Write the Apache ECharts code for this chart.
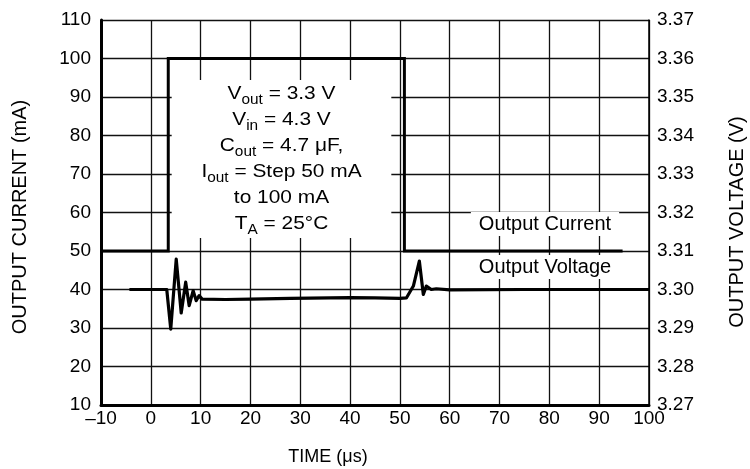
<!DOCTYPE html>
<html>
<head>
<meta charset="utf-8">
<script src="https://cdn.jsdelivr.net/npm/echarts@6/dist/echarts.min.js"></script>
<style>html,body{margin:0;padding:0;background:#fff;}#c{width:750px;height:469px;}</style>
</head>
<body>
<div id="c"></div>
<script>
// Axis ranges / ticks
const timeTicks = { min: -10, max: 100, interval: 10 };
const currentTicks = { min: 10, max: 110, interval: 10 };
const voltageTicks = { min: 3.27, max: 3.37, interval: 0.01 };

// Output current step (time in us, current in mA)
const timeCurrent = [-10, 3.5, 3.5, 50.9, 50.9, 94.7];
const currentMA = [50, 50, 100, 100, 50, 50];

// Output voltage response (time in us, voltage in V)
const timeVoltage = [-4.3, 3.2, 4.0, 5.1, 6.1, 7.0, 7.7, 8.5, 9.1, 9.7, 10.3, 15, 20, 28, 40, 45, 50, 51.3, 52.7, 53.9, 54.7, 55.3, 56.3, 57.3, 60, 75, 100];
const voltageV = [3.3000, 3.3000, 3.2897, 3.3079, 3.2939, 3.3019, 3.2958, 3.2997, 3.2971, 3.2984, 3.2975, 3.2974, 3.2975, 3.2977, 3.2979, 3.2978, 3.2977, 3.2978, 3.3009, 3.3074, 3.2987, 3.3009, 3.3000, 3.3002, 3.2999, 3.3000, 3.3000];

const annotationLines = [
  '{m|V}{s|out}{m| = 3.3 V}',
  '{m|V}{s|in}{m| = 4.3 V}',
  '{m|C}{s|out}{m| = 4.7 μF,}',
  '{m|I}{s|out}{m| = Step 50 mA}',
  '{m|to 100 mA}',
  '{m|T}{s|A}{m| = 25°C}'
];

const FONT = '"Liberation Sans", Arial, Helvetica, sans-serif';
const chart = echarts.init(document.getElementById('c'), null, { renderer: 'canvas' });

const currentData = timeCurrent.map((t, i) => [t, currentMA[i]]);
const voltageData = timeVoltage.map((t, i) => [t, voltageV[i]]);

chart.setOption({
  animation: false,
  backgroundColor: '#fff',
  grid: { left: 101, right: 101, top: 20, bottom: 64, containLabel: false },
  xAxis: {
    type: 'value', min: timeTicks.min, max: timeTicks.max, interval: timeTicks.interval,
    axisLine: { show: true, onZero: false, lineStyle: { color: '#000', width: 3 } },
    axisTick: { show: false },
    axisLabel: { color: '#000', fontFamily: FONT, fontSize: 19, margin: 4,
      formatter: v => v < 0 ? '\u2013' + Math.abs(v) : String(v) },
    splitLine: { show: true, lineStyle: { color: '#111', width: 1.3 } }
  },
  yAxis: [
    {
      type: 'value', position: 'left', min: currentTicks.min, max: currentTicks.max, interval: currentTicks.interval,
      axisLine: { show: true, onZero: false, lineStyle: { color: '#000', width: 3 } },
      axisTick: { show: false },
      axisLabel: { color: '#000', fontFamily: FONT, fontSize: 19, margin: 10 },
      splitLine: { show: true, lineStyle: { color: '#111', width: 1.3 } }
    },
    {
      type: 'value', position: 'right', min: voltageTicks.min, max: voltageTicks.max, interval: voltageTicks.interval,
      axisLine: { show: true, onZero: false, lineStyle: { color: '#000', width: 1.5 } },
      axisTick: { show: false },
      axisLabel: { color: '#000', fontFamily: FONT, fontSize: 19, margin: 8,
        formatter: v => v.toFixed(2) },
      splitLine: { show: false }
    }
  ],
  series: [
    {
      name: 'Output Current', type: 'line', yAxisIndex: 0, data: currentData,
      showSymbol: false, symbol: 'none', z: 5,
      lineStyle: { color: '#000', width: 3, join: 'miter' }
    },
    {
      name: 'Output Voltage', type: 'line', yAxisIndex: 1, data: voltageData,
      showSymbol: false, symbol: 'none', z: 5,
      lineStyle: { color: '#000', width: 3.2, join: 'round' }
    }
  ],
  graphic: [
    {
      type: 'text', x: 281.5, y: 159, scaleX: 1.1, z: 1,
      style: {
        text: annotationLines.join('\n'),
        align: 'center', verticalAlign: 'middle',
        backgroundColor: '#fff', padding: [1, 27],
        fill: '#000',
        font: '19px ' + FONT,
        rich: {
          m: { fontFamily: FONT, fontSize: 19, lineHeight: 26, fill: '#000' },
          s: { fontFamily: FONT, fontSize: 14, lineHeight: 16, verticalAlign: 'bottom', fill: '#000' }
        }
      }
    },
    {
      type: 'text', x: 545, y: 224, z: 1,
      style: { text: 'Output Current', align: 'center', verticalAlign: 'middle',
        font: '20px ' + FONT, fill: '#000', backgroundColor: '#fff', padding: [2, 8] }
    },
    {
      type: 'text', x: 545, y: 267, z: 1,
      style: { text: 'Output Voltage', align: 'center', verticalAlign: 'middle',
        font: '20px ' + FONT, fill: '#000', backgroundColor: '#fff', padding: [2, 8] }
    },
    {
      type: 'text', x: 20, y: 217, rotation: Math.PI / 2, z: 1,
      style: { text: 'OUTPUT CURRENT (mA)', align: 'center', verticalAlign: 'middle',
        font: '20px ' + FONT, fill: '#000' }
    },
    {
      type: 'text', x: 737, y: 222, rotation: Math.PI / 2, z: 1,
      style: { text: 'OUTPUT VOLTAGE (V)', align: 'center', verticalAlign: 'middle',
        font: '20px ' + FONT, fill: '#000' }
    },
    {
      type: 'text', x: 328, y: 457, z: 1,
      style: { text: 'TIME (μs)', align: 'center', verticalAlign: 'middle',
        font: '18px ' + FONT, fill: '#000' }
    }
  ]
});
</script>
</body>
</html>
